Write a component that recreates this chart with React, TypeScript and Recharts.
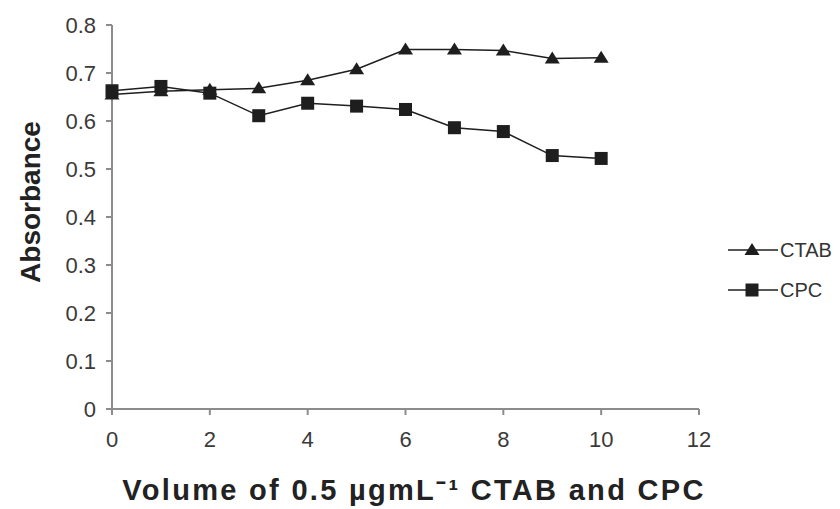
import { LineChart, Line, XAxis, YAxis, Label } from "recharts"

const volumes = [0, 1, 2, 3, 4, 5, 6, 7, 8, 9, 10]
const ctab = [0.655, 0.662, 0.665, 0.668, 0.685, 0.708, 0.749, 0.749, 0.747, 0.73, 0.732]
const cpc = [0.663, 0.672, 0.658, 0.611, 0.637, 0.631, 0.624, 0.586, 0.578, 0.528, 0.522]
const xTicks = [0, 2, 4, 6, 8, 10, 12]
const yTicks = [0, 0.1, 0.2, 0.3, 0.4, 0.5, 0.6, 0.7, 0.8]
const seriesNames = ["CTAB", "CPC"]

const data = volumes.map((v, i) => ({ v, ctab: ctab[i], cpc: cpc[i] }))

const ink = "#1e1e1e"
const axisGray = "#8c8c8c"
const font = "'Liberation Sans', Arial, sans-serif"

const Triangle = (props: any) => {
  const { cx, cy } = props
  if (cx == null || cy == null) return null
  return <path d={`M${cx},${cy - 7} L${cx + 7.5},${cy + 5} L${cx - 7.5},${cy + 5} Z`} fill={ink} />
}

const Square = (props: any) => {
  const { cx, cy } = props
  if (cx == null || cy == null) return null
  return <rect x={cx - 6.5} y={cy - 6.5} width={13} height={13} fill={ink} />
}

// legend drawn as overlay so it does not shrink the plot
const LegendBox = () => (
  <svg width={140} height={80} style={{ position: "absolute", left: 700, top: 230 }}>
    {seriesNames.map((name, i) => {
      const y = 20 + i * 40
      return (
        <g key={name}>
          <line x1={28} y1={y} x2={78} y2={y} stroke={ink} strokeWidth={1.5} />
          {i === 0 ? <Triangle cx={52} cy={y} /> : <Square cx={52} cy={y} />}
          <text x={80} y={y + 7} fontSize={20} fill="#333" fontFamily={font}>
            {name}
          </text>
        </g>
      )
    })}
  </svg>
)

export default function App() {
  return (
    <div style={{ position: "absolute", left: 0, top: 0, width: 840, height: 509, background: "#fff" }}>
      <LineChart width={840} height={509} data={data} margin={{ top: 25, right: 141, bottom: 70, left: 52 }}>
        <XAxis
          dataKey="v"
          type="number"
          domain={[0, 12]}
          ticks={xTicks}
          stroke={axisGray}
          strokeWidth={2}
          tickSize={6}
          tick={{ fill: "#3a3a3a", fontSize: 22, fontFamily: font }}
          tickMargin={16}
        >
          <Label
            content={() => (
              <text
                x={414}
                y={500}
                textAnchor="middle"
                fontSize={29}
                fontWeight="bold"
                letterSpacing={2.3}
                fill="#222"
                fontFamily={font}
              >
                Volume of 0.5 µgmL⁻¹ CTAB and CPC
              </text>
            )}
          />
        </XAxis>
        <YAxis
          type="number"
          domain={[0, 0.8]}
          ticks={yTicks}
          width={60}
          stroke={axisGray}
          strokeWidth={2}
          tickSize={6}
          tickMargin={10}
          tick={{ fill: "#3a3a3a", fontSize: 22, fontFamily: font }}
          tickFormatter={(t: number) => (t === 0 ? "0" : t.toFixed(1))}
        >
          <Label
            content={() => (
              <text
                x={40}
                y={202}
                transform="rotate(-90 40 202)"
                textAnchor="middle"
                fontSize={28}
                fontWeight="bold"
                fill="#222"
                fontFamily={font}
              >
                Absorbance
              </text>
            )}
          />
        </YAxis>
        <Line
          dataKey="ctab"
          name="CTAB"
          stroke={ink}
          strokeWidth={1.5}
          dot={<Triangle />}
          activeDot={false}
          isAnimationActive={false}
        />
        <Line
          dataKey="cpc"
          name="CPC"
          stroke={ink}
          strokeWidth={1.5}
          dot={<Square />}
          activeDot={false}
          isAnimationActive={false}
        />
      </LineChart>
      <LegendBox />
    </div>
  )
}
